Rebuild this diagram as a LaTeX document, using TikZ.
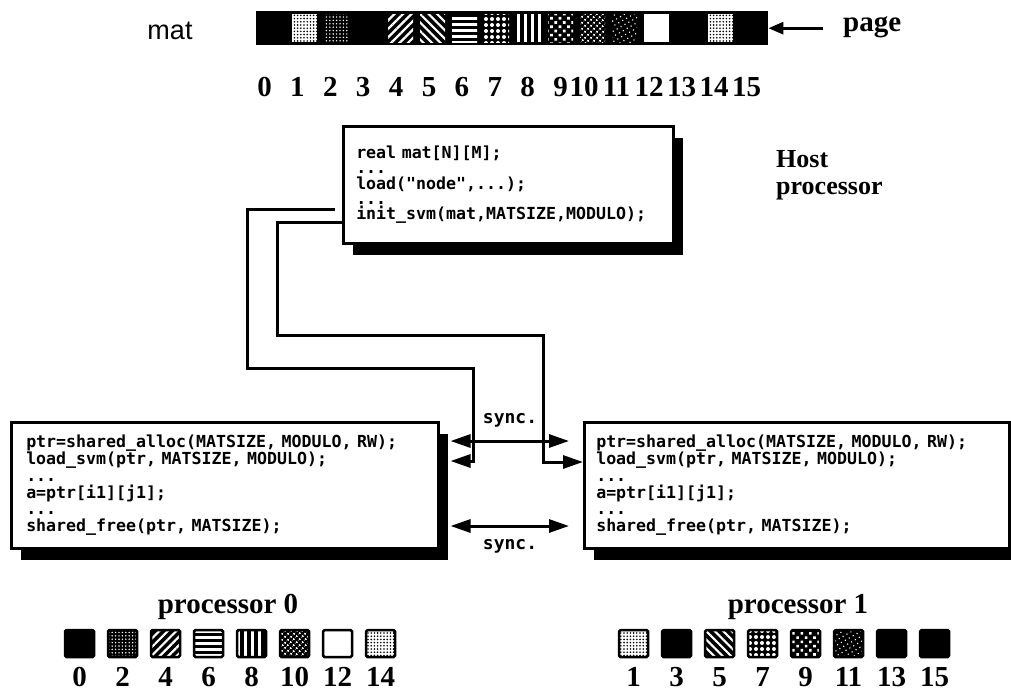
\documentclass[tikz,border=0pt]{standalone}
\usepackage{fontspec}
\setmainfont{Liberation Serif}
\setsansfont{Liberation Sans}
\setmonofont{DejaVu Sans Mono}
\usetikzlibrary{positioning, shapes, calc, arrows.meta, patterns.meta, shadows}

\begin{document}
\begin{tikzpicture}[x=1pt, y=-1pt]
  \tikzstyle{codebox}=[draw, line width=2.5pt, fill=white, anchor=north west, align=left, inner ysep=4pt, font=\fontsize{16.6}{16.8}\selectfont\ttfamily\bfseries, drop shadow={shadow xshift=10pt, shadow yshift=-12pt, fill=black, opacity=1}]
  \tikzstyle{big}=[inner sep=0pt, font=\fontsize{29}{32}\selectfont\bfseries]
  \tikzstyle{num}=[big, anchor=base]
  \tikzstyle{wire}=[line width=3pt]
  \tikzstyle{arr}=[wire, -{Triangle[length=20pt, width=13pt]}]
  \tikzstyle{syncarr}=[wire, {Triangle[length=20pt, width=13pt]}-{Triangle[length=20pt, width=13pt]}]
  \tikzstyle{synclbl}=[inner sep=0pt, anchor=base, font=\fontsize{18}{18}\selectfont\ttfamily\bfseries]
  % page fillings
  \tikzstyle{pblack}=[fill=black]
  \tikzstyle{pwhite}=[fill=white]
  \tikzstyle{plight}=[preaction={fill=white}, pattern={Dots[radius=0.9pt, distance=3.2pt]}, pattern color=black]
  \tikzstyle{pdark}=[preaction={fill=black}, pattern={Dots[radius=0.8pt, distance=3.4pt]}, pattern color=white]
  \tikzstyle{psparse}=[preaction={fill=black}, pattern={Dots[radius=0.8pt, distance=4.5pt, angle=30]}, pattern color=white]
  \tikzstyle{pne}=[preaction={fill=black}, pattern={Lines[angle=45, distance=6pt, line width=2.2pt]}, pattern color=white]
  \tikzstyle{pnw}=[preaction={fill=black}, pattern={Lines[angle=-45, distance=6pt, line width=2.2pt]}, pattern color=white]
  \tikzstyle{phor}=[preaction={fill=black}, pattern={Lines[angle=0, distance=6pt, line width=3pt]}, pattern color=white]
  \tikzstyle{pver}=[preaction={fill=black}, pattern={Lines[angle=90, distance=7pt, line width=3pt]}, pattern color=white]
  \tikzstyle{pgrid}=[preaction={fill=black}, pattern={Dots[radius=2pt, distance=6pt]}, pattern color=white]
  \tikzstyle{pdiam}=[preaction={fill=black}, pattern={Dots[radius=1.9pt, distance=6pt, angle=45]}, pattern color=white]
  \tikzstyle{pcross}=[preaction={fill=black}, pattern={Dots[radius=1.3pt, distance=4pt, angle=45]}, pattern color=white]

  \useasboundingbox (0,0) rectangle (1011,697);
  \clip (0,0) rectangle (1011,697);
  \fill[white] (0,0) rectangle (1011,697);

  % the shared matrix, page by page
  \node[font=\sffamily\fontsize{27}{30}\selectfont, inner sep=0pt, anchor=base] (mat) at (170,39) {mat};
  \node[fill=black, inner sep=0pt, minimum width=512pt, minimum height=34pt, anchor=north west] (strip) at (256,11) {};
  \foreach \s [count=\i from 0] in {pblack,plight,pdark,pblack,pne,pnw,phor,pgrid,pver,pdiam,pcross,psparse,pwhite,pblack,plight,pblack}
    \path[\s] (256+32*\i+4,14) rectangle +(25,28);
  \node[big, anchor=base west] (page) at (843,31) {page};
  \draw[wire, -{Triangle[length=15pt, width=12pt]}] ([xshift=-20pt]page.west |- strip.east) -- (strip.east);
  \foreach \n in {0,...,9}
    \node[num] (m\n) at (264.5+32.9*\n,96) {\n};
  \foreach \n in {10,...,15}
    \node[num] (m\n) at (584+32.5*\n-325,96) {\n};

  % host program
  \node[codebox, inner xsep=13pt, text width=304pt, minimum height=117pt, font=\fontsize{16.6}{15.3}\selectfont\ttfamily\bfseries] (host) at (342,125)
    {real mat[N][M];\\...\\load("node",...);\\...\\init\_svm(mat,MATSIZE,MODULO);\\[-8pt]};
  \node[big, align=left, anchor=north west, font=\fontsize{26}{27}\selectfont\bfseries] (hostlbl) at (776,150) {Host\\processor};

  % node programs
  \node[codebox, inner xsep=15pt, text width=397pt, minimum height=126pt] (p0) at (10,421)
    {ptr=shared\_alloc(MATSIZE, MODULO, RW);\\load\_svm(ptr, MATSIZE, MODULO);\\...\\a=ptr[i1][j1];\\...\\shared\_free(ptr, MATSIZE);\\[-8pt]};
  \node[codebox, inner xsep=12pt, text width=401pt, minimum height=126pt] (p1) at (583,421)
    {ptr=shared\_alloc(MATSIZE, MODULO, RW);\\load\_svm(ptr, MATSIZE, MODULO);\\...\\a=ptr[i1][j1];\\...\\shared\_free(ptr, MATSIZE);\\[-8pt]};
  \coordinate (p0sh) at ([xshift=11pt]p0.east);
  \coordinate (p1gap) at ([xshift=-14pt]p1.west);

  \draw[arr] ([xshift=-7pt]host.west |- 0,209) -| (247,368) -| (473,461) -- (p0sh |- 0,461);
  \draw[arr] (host.west |- 0,222) -| (277,335) -| (543,462) -- (p1.west |- 0,462);
  \draw[syncarr] (p0sh |- 0,441) -- (p1gap |- 0,441);
  \draw[syncarr] (p0sh |- 0,526) -- (p1gap |- 0,526);
  \node[synclbl] (s1) at (510,423) {sync.};
  \node[synclbl] (s2) at (510,549) {sync.};

  % pages held by each processor
  \node[big, anchor=base] (lbl0) at (228,613) {processor 0};
  \node[big, anchor=base] (lbl1) at (798,613) {processor 1};
  \foreach \s/\n [count=\i from 0] in {pblack/0,pdark/2,pne/4,phor/6,pver/8,pcross/10,pwhite/12,plight/14} {
    \path[\s, draw=black, line width=2.5pt, rounded corners=1.5pt] (65+43*\i,630) rectangle +(29,27);
    \node[num] (q\n) at (79.5+43*\i,686) {\n};
  }
  \foreach \s/\n [count=\i from 0] in {plight/1,pblack/3,pnw/5,pgrid/7,pdiam/9,psparse/11,pblack/13,pblack/15} {
    \path[\s, draw=black, line width=2.5pt, rounded corners=1.5pt] (619+43*\i,630) rectangle +(29,27);
    \node[num] (q\n) at (633.5+43*\i,686) {\n};
  }
\end{tikzpicture}
\end{document}
